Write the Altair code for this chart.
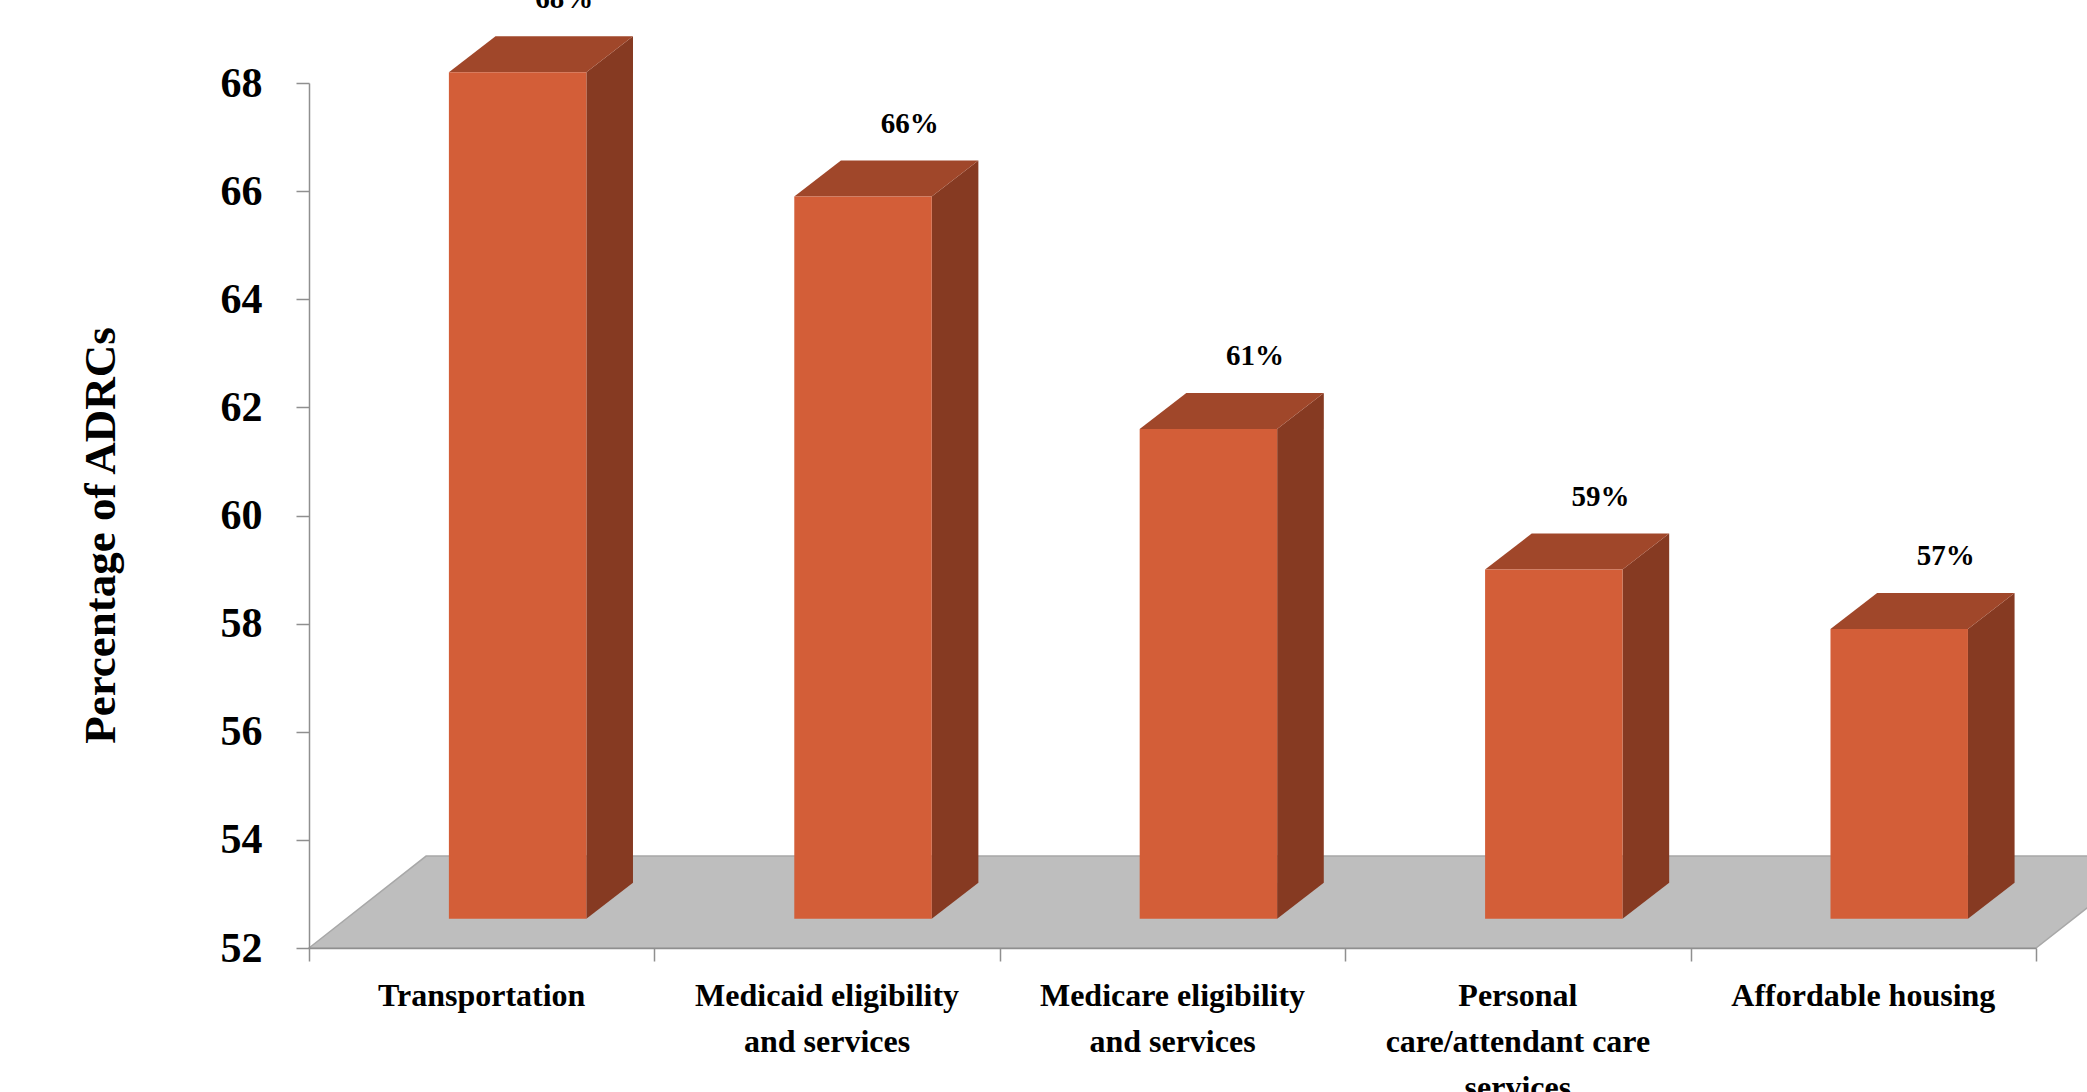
import altair as alt
import pandas as pd

# ---- data ----
categories = [
    "Transportation",
    "Medicaid eligibility and services",
    "Medicare eligibility and services",
    "Personal care/attendant care services",
    "Affordable housing",
]
category_lines = [
    "Transportation",
    "Medicaid eligibility\nand services",
    "Medicare eligibility\nand services",
    "Personal\ncare/attendant care\nservices",
    "Affordable housing",
]
values = [68.2, 65.9, 61.6, 59.0, 57.9]
value_labels = ["68%", "66%", "61%", "59%", "57%"]
y_ticks = [52, 54, 56, 58, 60, 62, 64, 66, 68]

Y_MIN, Y_MAX = 52, 68
BAR_FOOT = 52.54          # where the bar front stands on the 3-D floor

# ---- 3-D styling constants (in scale units) ----
FRONT_L, FRONT_R = 0.405, 0.803   # front face within each category slot
DX, DY = 0.135, 0.665             # bar depth
FLOOR_DX, FLOOR_DY = 0.339, 1.70  # floor depth

FONT = "Liberation Serif"
FRONT_C, SIDE_C, TOP_C, FLOOR_C = "#D35E38", "#863A22", "#A0472A", "#BEBEBE"
AXIS_C = "#8F8F8F"

n = len(categories)
xs = alt.Scale(domain=[0, n], nice=False, zero=False)
ys = alt.Scale(domain=[Y_MIN, Y_MAX], nice=False, zero=False)

x_axis = alt.Axis(
    values=list(range(n + 1)), labels=False, ticks=True, tickSize=13,
    tickColor=AXIS_C, domainColor=AXIS_C, grid=False, title=None, zindex=1,
    tickWidth=1.5, domainWidth=1.5)
y_axis = alt.Axis(
    values=y_ticks, format="d", grid=False, tickSize=13, tickColor=AXIS_C,
    domainColor=AXIS_C, tickWidth=1.5, domainWidth=1.5, zindex=1,
    labelFont=FONT, labelFontSize=42, labelFontWeight="bold", labelColor="black",
    labelPadding=34,
    title="Percentage of ADRCs", titleFont=FONT, titleFontSize=45,
    titleFontWeight="bold", titleColor="black", titleAngle=270,
    titleX=-209, titleY=452, titleAlign="center", titleBaseline="middle")

X = alt.X("x:Q", scale=xs, axis=x_axis, title=None)
Y = alt.Y("y:Q", scale=ys, axis=y_axis, title="Percentage of ADRCs")

# floor
floor_df = pd.DataFrame({
    "x": [0, FLOOR_DX, n, n + FLOOR_DX],
    "y": [Y_MIN, Y_MIN + FLOOR_DY, Y_MIN + FLOOR_DY, Y_MIN + FLOOR_DY],
    "y2": [Y_MIN, Y_MIN, Y_MIN, Y_MIN + FLOOR_DY],
})

front_rows, side_rows, top_rows, lab_rows, cat_rows = [], [], [], [], []
for i, (c, v, lab, cl) in enumerate(zip(categories, values, value_labels, category_lines)):
    L, R = i + FRONT_L, i + FRONT_R
    front_rows.append({"cat": c, "x": L, "x2": R, "y": v, "y2": BAR_FOOT})
    side_rows += [
        {"cat": c, "x": R, "y": v, "y2": BAR_FOOT},
        {"cat": c, "x": R + DX, "y": v + DY, "y2": BAR_FOOT + DY},
    ]
    top_rows += [
        {"cat": c, "x": L, "y": v, "y2": v},
        {"cat": c, "x": L + DX, "y": v + DY, "y2": v},
        {"cat": c, "x": R, "y": v + DY, "y2": v},
        {"cat": c, "x": R + DX, "y": v + DY, "y2": v + DY},
    ]
    lab_rows.append({"x": (L + R) / 2 + DX, "y": v + DY, "label": lab})
    cat_rows.append({"x": i + 0.5, "y": Y_MIN, "label": cl})

front_df = pd.DataFrame(front_rows)
side_df = pd.DataFrame(side_rows)
top_df = pd.DataFrame(top_rows)
lab_df = pd.DataFrame(lab_rows)
cat_df = pd.DataFrame(cat_rows)

floor = alt.Chart(floor_df).mark_area(color=FLOOR_C, stroke="#A8A8A8", strokeWidth=1.5).encode(
    x=X, y=Y, y2="y2:Q",
)

side = alt.Chart(side_df).mark_area(color=SIDE_C).encode(
    x=X, y=Y, y2="y2:Q", detail="cat:N",
)

top = alt.Chart(top_df).mark_area(color=TOP_C).encode(
    x=X, y=Y, y2="y2:Q", detail="cat:N",
)

front = alt.Chart(front_df).mark_rect(color=FRONT_C).encode(
    x=X, x2="x2:Q", y=Y, y2="y2:Q",
)

vlabels = alt.Chart(lab_df).mark_text(
    font=FONT, fontSize=29, fontWeight="bold", color="black",
    align="center", baseline="alphabetic", dy=-28,
).encode(
    x=X, y=Y, text="label:N",
)

clabels = alt.Chart(cat_df).mark_text(
    font=FONT, fontSize=32, fontWeight="bold", color="black",
    align="center", baseline="top", dy=33, lineBreak="\n", lineHeight=46,
).encode(
    x=X, y=Y, text="label:N",
)

chart = alt.layer(floor, side, top, front, vlabels, clabels).properties(
    width=1727,
    height=865,
    autosize=alt.AutoSizeParams(type="none"),
    padding={"left": 309, "top": 83, "right": 51, "bottom": 144},
    background="white",
).configure_view(stroke=None)

chart.save("out.html", embed_options={"renderer": "svg", "actions": False})
